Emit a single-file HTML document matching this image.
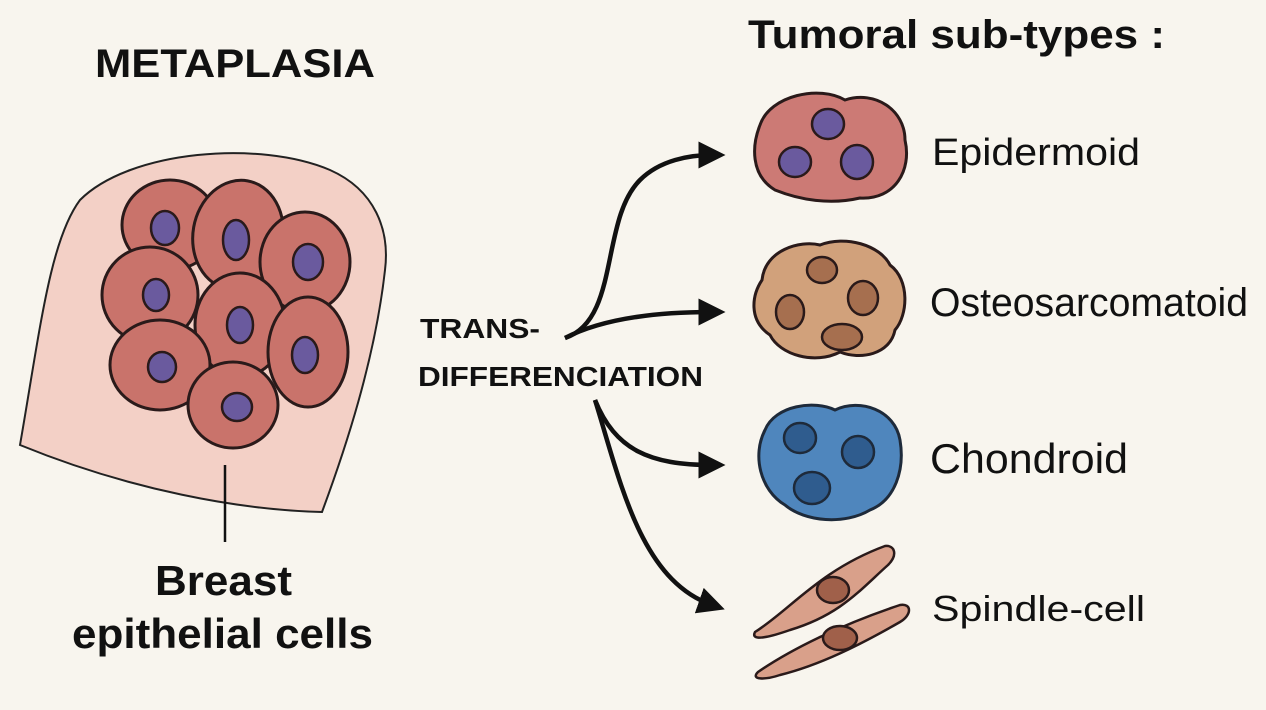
<!DOCTYPE html>
<html><head><meta charset="utf-8">
<style>
html,body{margin:0;padding:0;background:#f8f5ee;}
svg{display:block;}
text{font-family:"Liberation Sans",sans-serif;fill:#111;}
.b{font-weight:bold;}
</style></head>
<body>
<svg width="1266" height="710" viewBox="0 0 1266 710">
<rect width="1266" height="710" fill="#f8f5ee"/>
<text x="95" y="77" class="b" font-size="40" textLength="280" lengthAdjust="spacingAndGlyphs">METAPLASIA</text>
<g>
<path d="M20,445 C40,330 50,240 80,200 C130,150 260,140 330,170 C375,190 390,230 385,270 C375,360 345,450 322,512 C240,510 130,490 20,445 Z" fill="#f3d0c6" stroke="#222" stroke-width="2"/>
</g>
<g stroke="#2a1a1a" stroke-width="3">
<g fill="#c9736b">
<ellipse cx="170" cy="225" rx="48" ry="45"/>
<ellipse cx="238" cy="235" rx="45" ry="55" transform="rotate(10 238 235)"/>
<ellipse cx="305" cy="262" rx="45" ry="50"/>
<ellipse cx="150" cy="295" rx="48" ry="48"/>
<ellipse cx="240" cy="325" rx="45" ry="52"/>
<ellipse cx="160" cy="365" rx="50" ry="45"/>
<ellipse cx="308" cy="352" rx="40" ry="55"/>
<ellipse cx="233" cy="405" rx="45" ry="43"/>
</g>
<g fill="#6a5a9e" stroke-width="2.5">
<ellipse cx="165" cy="228" rx="14" ry="17"/>
<ellipse cx="236" cy="240" rx="13" ry="20"/>
<ellipse cx="308" cy="262" rx="15" ry="18"/>
<ellipse cx="156" cy="295" rx="13" ry="16"/>
<ellipse cx="240" cy="325" rx="13" ry="18"/>
<ellipse cx="162" cy="367" rx="14" ry="15"/>
<ellipse cx="305" cy="355" rx="13" ry="18"/>
<ellipse cx="237" cy="407" rx="15" ry="14"/>
</g>
</g>
<line x1="225" y1="465" x2="225" y2="542" stroke="#111" stroke-width="2.5"/>
<text x="155" y="595" class="b" font-size="42" textLength="137" lengthAdjust="spacingAndGlyphs">Breast</text>
<text x="72" y="648" class="b" font-size="42" textLength="301" lengthAdjust="spacingAndGlyphs">epithelial cells</text>
<text x="420" y="338" class="b" font-size="28" textLength="120" lengthAdjust="spacingAndGlyphs">TRANS-</text>
<text x="418" y="386" class="b" font-size="28" textLength="285" lengthAdjust="spacingAndGlyphs">DIFFERENCIATION</text>
<defs><marker id="ah" markerWidth="6" markerHeight="6" refX="3" refY="3" orient="auto" markerUnits="strokeWidth"><path d="M0,0 L6,3 L0,6 Z" fill="#111"/></marker></defs>
<g fill="none" stroke="#111" stroke-width="4.5">
<path d="M565,338 C620,320 600,220 640,180 C660,160 690,155 712,155" marker-end="url(#ah)"/>
<path d="M565,338 C600,320 650,312 712,312" marker-end="url(#ah)"/>
<path d="M595,400 C615,450 650,465 712,465" marker-end="url(#ah)"/>
<path d="M595,400 C620,480 640,580 712,605" marker-end="url(#ah)"/>
</g>
<text x="748" y="48" class="b" font-size="40" textLength="417" lengthAdjust="spacingAndGlyphs">Tumoral sub-types :</text>
<g stroke="#2a1a1a" stroke-width="3">
<path d="M760,125 C770,95 820,85 845,100 C875,90 905,110 905,140 C912,170 895,200 860,198 C830,205 800,200 775,190 C750,175 752,145 760,125 Z" fill="#cc7a75"/>
<g fill="#6a5a9e" stroke-width="2.5"><ellipse cx="828" cy="124" rx="16" ry="15"/><ellipse cx="795" cy="162" rx="16" ry="15"/><ellipse cx="857" cy="162" rx="16" ry="17"/></g>
</g>
<text x="932" y="165" font-size="38" textLength="208" lengthAdjust="spacingAndGlyphs">Epidermoid</text>
<g stroke="#2a1a1a" stroke-width="3">
<path d="M762,280 C765,250 800,240 820,245 C845,235 880,245 890,265 C910,280 908,315 895,330 C890,355 860,360 840,352 C815,365 780,355 770,335 C748,320 752,295 762,280 Z" fill="#d1a17b"/>
<g fill="#a66f4f" stroke-width="2.5"><ellipse cx="822" cy="270" rx="15" ry="13"/><ellipse cx="790" cy="312" rx="14" ry="17"/><ellipse cx="863" cy="298" rx="15" ry="17"/><ellipse cx="842" cy="337" rx="20" ry="13"/></g>
</g>
<text x="930" y="316" font-size="40" textLength="318" lengthAdjust="spacingAndGlyphs">Osteosarcomatoid</text>
<g stroke="#1e2a3a" stroke-width="3">
<path d="M765,430 C775,405 815,400 835,410 C860,398 895,410 900,440 C905,470 895,500 870,510 C845,525 805,522 785,505 C760,490 752,455 765,430 Z" fill="#4f86bd"/>
<g fill="#2f5c8e" stroke-width="2.5"><ellipse cx="800" cy="438" rx="16" ry="15"/><ellipse cx="858" cy="452" rx="16" ry="16"/><ellipse cx="812" cy="488" rx="18" ry="16"/></g>
</g>
<text x="930" y="473" font-size="42" textLength="198" lengthAdjust="spacingAndGlyphs">Chondroid</text>
<g stroke="#2a1a1a" stroke-width="2.5">
<path d="M755,632 C790,610 820,570 885,546 C895,545 898,555 888,565 C860,590 840,615 790,630 C770,637 750,642 755,632 Z" fill="#d9a08a"/>
<ellipse cx="833" cy="590" rx="16" ry="13" fill="#a0604a"/>
<path d="M758,672 C790,650 840,625 900,605 C912,603 912,615 900,622 C860,645 820,665 780,675 C765,680 750,680 758,672 Z" fill="#d9a08a"/>
<ellipse cx="840" cy="638" rx="17" ry="12" fill="#a0604a"/>
</g>
<text x="932" y="621" font-size="36" textLength="213" lengthAdjust="spacingAndGlyphs">Spindle-cell</text>
</svg>
</body></html>
